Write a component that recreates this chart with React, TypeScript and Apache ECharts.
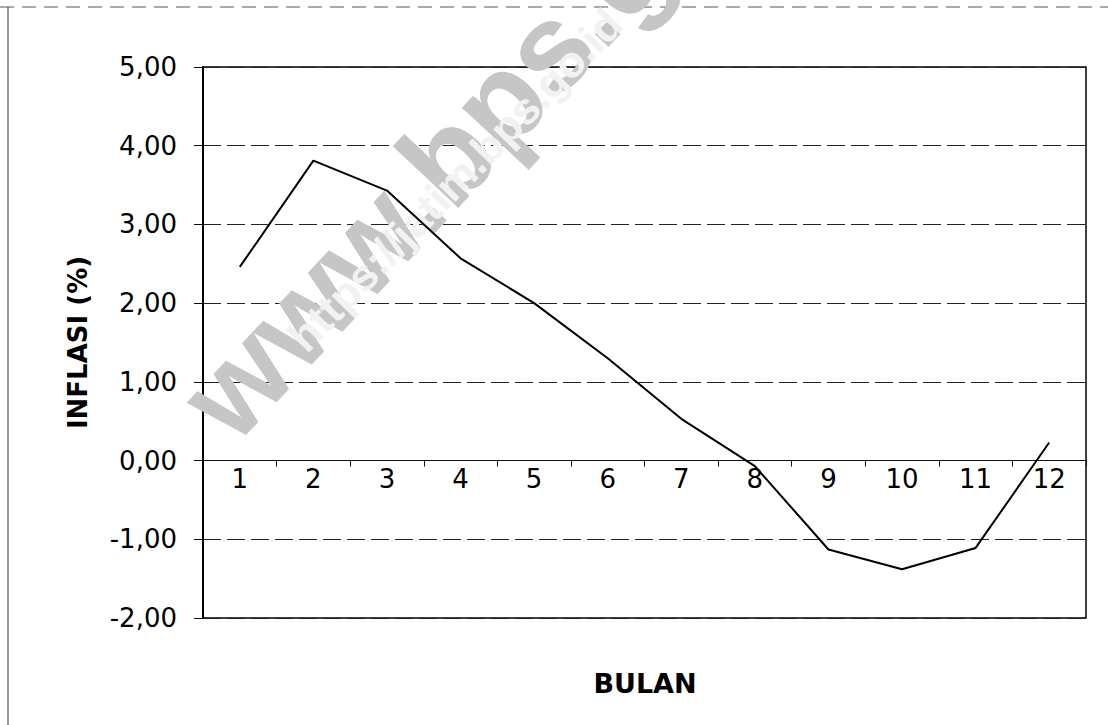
import React, { useEffect, useRef } from "react";
import * as echarts from "echarts";

const categories = ["1", "2", "3", "4", "5", "6", "7", "8", "9", "10", "11", "12"];
const inflasi = [2.46, 3.81, 3.43, 2.57, 2.0, 1.3, 0.53, -0.07, -1.13, -1.38, -1.11, 0.23];
const yTicks = { min: -2, max: 5, interval: 1 };

export default function App() {
  const ref = useRef<HTMLDivElement>(null);
  useEffect(() => {
    document.body.style.margin = "0";
    const chart = echarts.init(ref.current!, undefined, { renderer: "svg" });
    const font = "DejaVu Sans";
    const gridTop = 67;
    const gridBottom = 107;
    const plotH = 725 - gridTop - gridBottom;
    const zeroOffset = -plotH * (0 - yTicks.min) / (yTicks.max - yTicks.min);
    chart.setOption({
      animation: false,
      backgroundColor: "#ffffff",
      grid: {
        left: 203,
        right: 22,
        top: gridTop,
        bottom: gridBottom,
        show: true,
        borderColor: "#000",
        borderWidth: 1.5,
      },
      xAxis: {
        type: "category",
        data: categories,
        boundaryGap: true,
        offset: zeroOffset,
        axisLine: { onZero: false, lineStyle: { color: "#111", width: 1 } },
        axisTick: { show: true, alignWithLabel: false, length: 6, lineStyle: { color: "#111" } },
        axisLabel: { margin: 5, fontFamily: font, fontSize: 26, color: "#000" },
        splitLine: { show: false },
      },
      yAxis: {
        type: "value",
        min: yTicks.min,
        max: yTicks.max,
        interval: yTicks.interval,
        name: "INFLASI (%)",
        nameLocation: "middle",
        nameGap: 112,
        nameRotate: 90,
        nameTextStyle: { fontFamily: font, fontWeight: "bold", fontSize: 26, color: "#000" },
        axisLine: { show: true, lineStyle: { color: "#000", width: 2 } },
        axisTick: { show: true, inside: false, length: 9, lineStyle: { color: "#111" } },
        axisLabel: {
          margin: 26,
          fontFamily: font,
          fontSize: 26,
          color: "#000",
          formatter: (v: number) => v.toFixed(2).replace(".", ","),
        },
        splitLine: { show: true, lineStyle: { color: "#222", width: 1.2, type: [18, 6] } },
      },
      graphic: [
        {
          type: "line",
          z: 1,
          shape: { x1: 0, y1: 7, x2: 1108, y2: 7 },
          style: { stroke: "#555", lineWidth: 1, lineDash: [14, 8] },
        },
        {
          type: "line",
          z: 1,
          shape: { x1: 8, y1: 7, x2: 8, y2: 725 },
          style: { stroke: "#333", lineWidth: 1 },
        },
        {
          type: "text",
          z: 1,
          x: 500,
          y: 100,
          rotation: 0.82,
          style: {
            text: "www.bps.go.id",
            fontFamily: "Liberation Sans",
            fontWeight: "bold",
            fontSize: 124,
            fill: "#c6c6c6",
            textAlign: "center",
            textVerticalAlign: "middle",
          },
        },
        {
          type: "text",
          z: 1,
          x: 455,
          y: 180,
          rotation: 0.8,
          style: {
            text: "https://jatim.bps.go.id",
            fontFamily: "Liberation Sans",
            fontWeight: "bold",
            fontSize: 44,
            fill: "#f2f2f2",
            textAlign: "center",
            textVerticalAlign: "middle",
          },
        },
        {
          type: "text",
          z: 1,
          x: 645,
          y: 683,
          style: {
            text: "BULAN",
            fontFamily: font,
            fontWeight: "bold",
            fontSize: 27,
            fill: "#000",
            textAlign: "center",
            textVerticalAlign: "middle",
          },
        },
      ],
      series: [
        {
          type: "line",
          data: inflasi,
          z: 3,
          symbol: "none",
          lineStyle: { color: "#000", width: 2 },
        },
      ],
    });
    return () => chart.dispose();
  }, []);
  return (
    <div
      ref={ref}
      style={{ position: "fixed", left: 0, top: 0, width: 1108, height: 725 }}
    />
  );
}
